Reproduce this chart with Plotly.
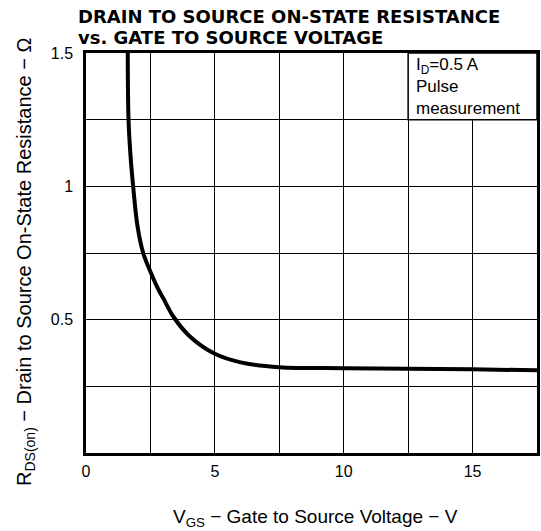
import plotly.graph_objects as go

# Data
vgs = [1.62, 1.65, 1.72, 1.83, 2.0, 2.22, 2.5, 2.8, 3.0, 3.4, 4.0, 5.0, 6.0, 7.5, 10.0, 12.5, 15.0, 17.5]
rds = [1.5, 1.25, 1.125, 1.0, 0.85, 0.75, 0.68, 0.615, 0.58, 0.51, 0.44, 0.372, 0.34, 0.322, 0.318, 0.316, 0.314, 0.31]

x_tick_vals = [0, 5, 10, 15]
x_tick_text = ["0", "5", "10", "15"]
y_tick_vals = [0.5, 1, 1.5]
y_tick_text = ["0.5", "1", "1.5"]

title_line1 = "DRAIN TO SOURCE ON-STATE RESISTANCE"
title_line2 = "vs. GATE TO SOURCE VOLTAGE"
x_title = "V<sub>GS</sub> \u2212 Gate to Source Voltage \u2212 V"
y_title = "R<sub>DS(on)</sub> \u2212 Drain to Source On-State Resistance \u2212 \u03a9"
note_text = "I<sub>D</sub>=0.5 A<br>Pulse<br>measurement"

W, H = 541, 531
L, R, T, B = 86, 4, 53, 78
PW = W - L - R
PH = H - T - B


def px_x(px):
    return (px - L) / PW


def px_y(py):
    return (H - B - py) / PH


fig = go.Figure()
fig.add_trace(go.Scatter(
    x=vgs, y=rds, mode="lines",
    line=dict(color="black", width=4, shape="spline", smoothing=1.0),
    showlegend=False, hoverinfo="skip",
))

fig.add_shape(type="rect", xref="x", yref="y", x0=12.5, x1=17.5, y0=1.25, y1=1.5,
              fillcolor="white", line=dict(color="black", width=1.5), layer="between")
fig.add_annotation(xref="x", yref="y", x=12.5, y=1.5, xanchor="left", yanchor="top",
                   xshift=6, yshift=0, text=note_text, showarrow=False, align="left",
                   font=dict(family="Liberation Sans", size=17, color="black"))

title_font = dict(family="DejaVu Sans", size=18, color="black", weight="bold")
fig.add_annotation(xref="paper", yref="paper", x=px_x(76), y=px_y(17),
                   xanchor="left", yanchor="middle", text=title_line1, showarrow=False,
                   font=title_font)
fig.add_annotation(xref="paper", yref="paper", x=px_x(76), y=px_y(38),
                   xanchor="left", yanchor="middle", text=title_line2, showarrow=False,
                   font=title_font)

title_axis_font = dict(family="Liberation Sans", size=19, color="black")
fig.add_annotation(xref="paper", yref="paper", x=px_x(315), y=px_y(518),
                   xanchor="center", yanchor="middle", text=x_title, showarrow=False,
                   font=title_axis_font)
fig.add_annotation(xref="paper", yref="paper", x=px_x(25), y=px_y(262),
                   xanchor="center", yanchor="middle", text=y_title, showarrow=False,
                   textangle=-90, font=dict(family="Liberation Sans", size=20, color="black"))

axis_font = dict(family="Liberation Sans", size=16, color="black")
fig.update_layout(
    width=W, height=H,
    margin=dict(l=L, r=R, t=T, b=B, autoexpand=False),
    paper_bgcolor="white", plot_bgcolor="white",
    hovermode=False,
    xaxis=dict(range=[0, 17.5], tickvals=x_tick_vals, ticktext=x_tick_text,
               automargin=False,
               showgrid=True, gridcolor="black", gridwidth=1.3,
               minor=dict(dtick=2.5, showgrid=True, gridcolor="black", gridwidth=1.3),
               showline=True, mirror=True, linecolor="black", linewidth=2.5,
               ticks="", ticklabelstandoff=2, tickfont=axis_font, zeroline=False),
    yaxis=dict(range=[0, 1.5], tickvals=y_tick_vals, ticktext=y_tick_text,
               automargin=False,
               showgrid=True, gridcolor="black", gridwidth=1.3,
               minor=dict(dtick=0.25, showgrid=True, gridcolor="black", gridwidth=1.3),
               showline=True, mirror=True, linecolor="black", linewidth=2.5,
               ticks="", ticklabelstandoff=7, tickfont=axis_font, zeroline=False),
)

# remove the browser's default page margin so the figure fills the window exactly
fig.write_html("out.html",
               config={"displayModeBar": False},
               post_script="document.body.style.margin='0';document.body.style.overflow='hidden';")
